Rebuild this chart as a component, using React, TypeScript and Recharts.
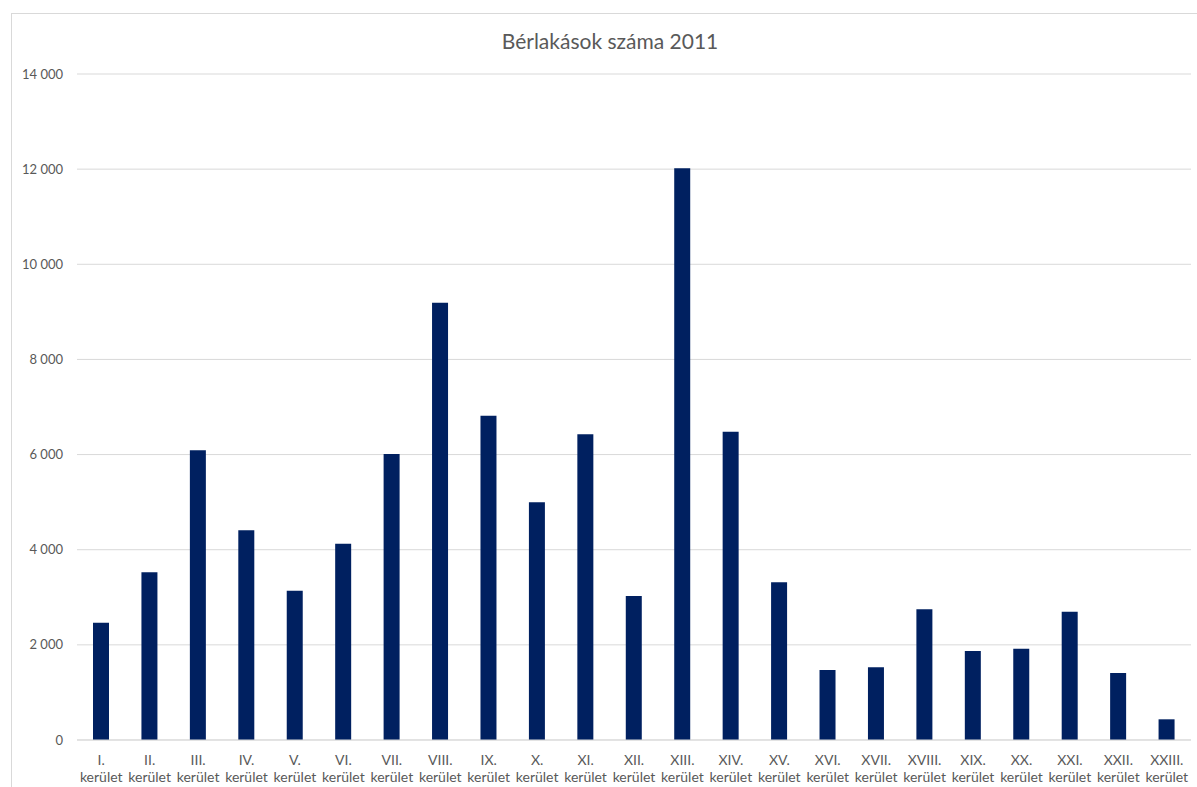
import { BarChart, Bar, XAxis, YAxis, CartesianGrid } from "recharts";

// district names (first line of each x label) and flats for rent in 2011
const districts = [
  "I.", "II.", "III.", "IV.", "V.", "VI.", "VII.", "VIII.", "IX.", "X.", "XI.", "XII.",
  "XIII.", "XIV.", "XV.", "XVI.", "XVII.", "XVIII.", "XIX.", "XX.", "XXI.", "XXII.", "XXIII.",
];
const rentals = [
  2466, 3525, 6090, 4408, 3139, 4127, 6012, 9193, 6817, 4997, 6426, 3027,
  12018, 6481, 3318, 1471, 1528, 2747, 1871, 1920, 2697, 1408, 435,
];
const yTicks = [0, 2000, 4000, 6000, 8000, 10000, 12000, 14000];

const data = districts.map((d, i) => ({ name: `${d} kerület`, value: rentals[i] }));

const GREY = "#595959";
const FONT = "Lato, 'Open Sans', sans-serif";

const fmt = (v: number) => String(v).replace(/\B(?=(\d{3})+(?!\d))/g, " ");

function DistrictTick({ x, y, payload }: any) {
  const [num, word] = String(payload.value).split(" ");
  return (
    <text x={x} y={y} textAnchor="middle" fill={GREY} fontSize={14} fontFamily={FONT}>
      <tspan x={x} dy={17}>{num}</tspan>
      <tspan x={x} dy={17}>{word}</tspan>
    </text>
  );
}

export default function App() {
  return (
    <div style={{ position: "absolute", left: 0, top: 0, width: 1197, height: 787, overflow: "hidden", background: "#fff" }}>
      <div
        style={{
          position: "absolute",
          left: 11,
          top: 13,
          width: 1300,
          height: 900,
          border: "1px solid #d9d9d9",
        }}
      />
      <div
        style={{
          position: "absolute",
          left: 410,
          width: 400,
          top: 28,
          textAlign: "center",
          fontFamily: FONT,
          fontSize: 21,
          color: GREY,
        }}
      >
        Bérlakások száma 2011
      </div>
      <div style={{ position: "absolute", left: 0, top: 0 }}>
        <BarChart width={1197} height={787} data={data} margin={{ top: 74, right: 6, bottom: 0, left: 0 }}>
          <CartesianGrid vertical={false} stroke="#d9d9d9" />
          <XAxis
            dataKey="name"
            interval={0}
            height={47}
            tickLine={false}
            axisLine={{ stroke: "#d9d9d9" }}
            tick={<DistrictTick />}
          />
          <YAxis
            width={77}
            domain={[0, 14000]}
            ticks={yTicks}
            tickFormatter={fmt}
            axisLine={false}
            tickLine={false}
            tickMargin={8}
            tick={{ fill: GREY, fontSize: 13, fontFamily: FONT }}
          />
          <Bar dataKey="value" fill="#002060" barSize={16} isAnimationActive={false} />
        </BarChart>
      </div>
    </div>
  );
}
